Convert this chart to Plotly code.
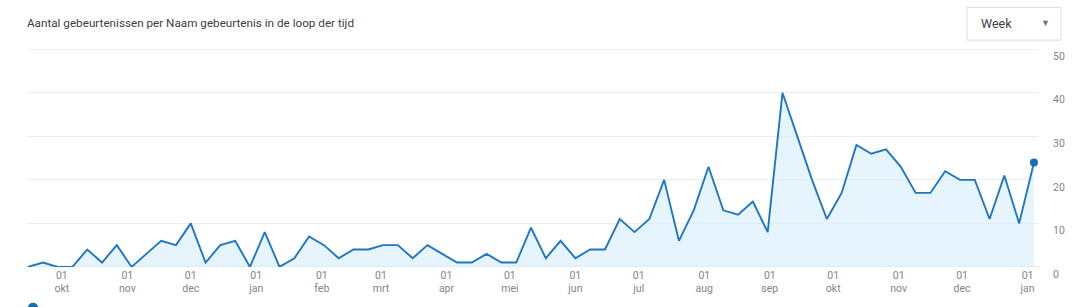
import pandas as pd
import plotly.graph_objects as go

# ---- data ----
start_week = "2024-09-15"
counts = [0, 1, 0, 0, 4, 1, 5, 0, 3, 6, 5, 10, 1, 5, 6, 0, 8, 0, 2, 7,
          5, 2, 4, 4, 5, 5, 2, 5, 3, 1, 1, 3, 1, 1, 9, 2, 6, 2, 4, 4,
          11, 8, 11, 20, 6, 13, 23, 13, 12, 15, 8, 40, 30, 20, 11, 17, 28, 26, 27, 23,
          17, 17, 22, 20, 20, 11, 21, 10, 24]
weeks = pd.date_range(start_week, periods=len(counts), freq="7D")

month_ticks = pd.date_range("2024-10-01", "2026-01-01", freq="MS")
month_names = ["jan", "feb", "mrt", "apr", "mei", "jun", "jul", "aug", "sep", "okt", "nov", "dec"]
tick_text = ["01<br>" + month_names[d.month - 1] for d in month_ticks]
y_ticks = [0, 10, 20, 30, 40, 50]

title_text = "Aantal gebeurtenissen per Naam gebeurtenis in de loop der tijd"
period_label = "Week"

# ---- layout constants ----
W, H = 1082, 307
ML, MR, MT, MB = 27, 44, 49, 38
PW, PH = W - ML - MR, H - MT - MB


def px(x):
    return (x - ML) / PW


def py(y):
    return (H - MB - y) / PH


LINE = "#1f76c2"
FILL = "rgba(214,236,251,0.6)"
GRID = "#ebedf0"
TICK = "#80868b"

fig = go.Figure()
fig.add_trace(go.Scatter(
    x=weeks, y=counts, mode="lines",
    line=dict(color=LINE, width=1.9),
    fill="tozeroy", fillcolor=FILL,
    hoverinfo="x+y", showlegend=False,
))
fig.add_trace(go.Scatter(
    x=[weeks[-1]], y=[counts[-1]], mode="markers",
    marker=dict(color="#1a6cb3", size=8, symbol="circle"),
    showlegend=False, hoverinfo="skip",
))

fig.update_layout(
    width=W, height=H,
    margin=dict(l=ML, r=MR, t=MT, b=MB),
    paper_bgcolor="white", plot_bgcolor="white",
    font=dict(family="Roboto, Arial, sans-serif", color="#3c4043"),
    xaxis=dict(
        type="date",
        range=["2024-09-14 12:00", "2026-01-05 22:00"],
        tickvals=list(month_ticks), ticktext=tick_text,
        showgrid=False, zeroline=False, showline=False,
        ticks="", tickfont=dict(size=10.5, color=TICK),
    ),
    yaxis=dict(
        side="right", range=[-0.02, 50.06], tickvals=y_ticks,
        showgrid=True, gridcolor=GRID, gridwidth=1,
        zeroline=True, zerolinecolor="#e3e5e8", zerolinewidth=1,
        showline=False, ticks="",
        tickfont=dict(size=10.5, color=TICK),
        ticklabelstandoff=14, ticklabelshift=7,
    ),
    annotations=[
        dict(text=title_text, xref="paper", yref="paper",
             x=px(25), y=py(23), xanchor="left", yanchor="middle",
             showarrow=False, font=dict(size=11.7, color="#3c4043")),
        dict(text=period_label, xref="paper", yref="paper",
             x=px(979), y=py(23), xanchor="left", yanchor="middle",
             showarrow=False, font=dict(size=12.5, color="#3c4043")),
        dict(text="▼", xref="paper", yref="paper",
             x=px(1045), y=py(23), xanchor="center", yanchor="middle",
             showarrow=False, font=dict(size=9, color="#6f7377")),
    ],
    shapes=[
        dict(type="line", xref="paper", yref="y",
             x0=0, x1=1, y0=max(y_ticks), y1=max(y_ticks),
             line=dict(color=GRID, width=1), layer="below"),
        dict(type="rect", xref="paper", yref="paper",
             x0=px(967), x1=px(1061), y0=py(40), y1=py(7),
             line=dict(color="#dadce0", width=1), fillcolor="white", layer="above"),
        dict(type="circle", xref="paper", yref="paper",
             x0=px(28), x1=px(38), y0=py(315), y1=py(305),
             line=dict(width=0), fillcolor="#1a6cb3"),
    ],
)

fig.write_html("out.html")
